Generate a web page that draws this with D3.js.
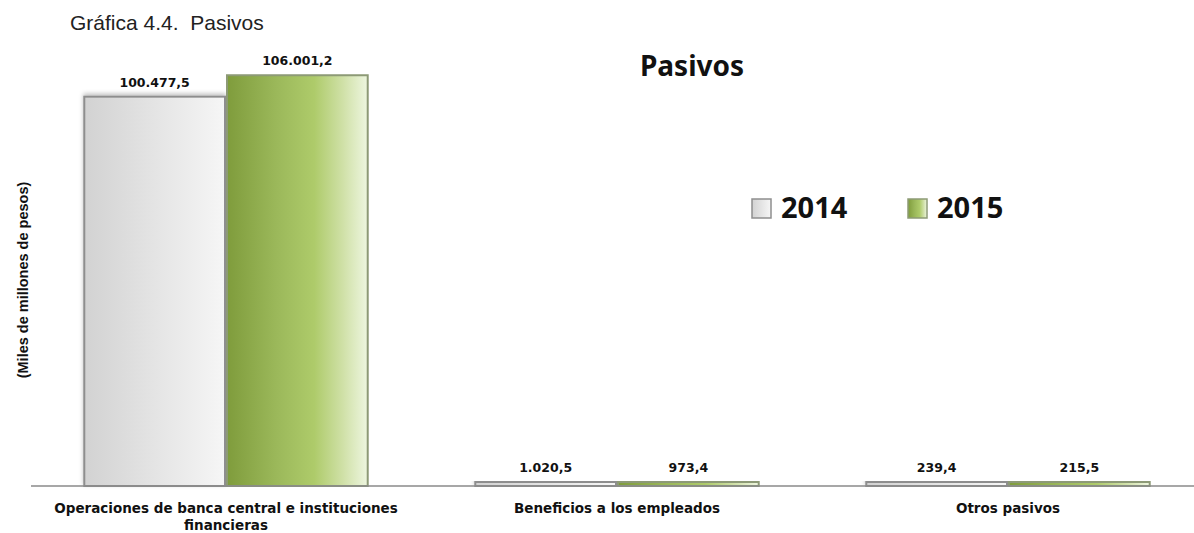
<!DOCTYPE html>
<html>
<head>
<meta charset="utf-8">
<script src="https://cdn.jsdelivr.net/npm/d3@7"></script>
<style>
  body { margin: 0; background: #fff; }
  svg { display: block; }
</style>
</head>
<body>
<div id="chart"></div>
<script>
// datos de la grafica
var categories = ["Operaciones de banca central e instituciones financieras", "Beneficios a los empleados", "Otros pasivos"];
var catLines = [["Operaciones de banca central e instituciones", "financieras"], ["Beneficios a los empleados"], ["Otros pasivos"]];
var years = ["2014", "2015"];
var values2014 = [100477.5, 1020.5, 239.4];
var values2015 = [106001.2, 973.4, 215.5];
var valueLabels2014 = ["100.477,5", "1.020,5", "239,4"];
var valueLabels2015 = ["106.001,2", "973,4", "215,5"];

var width = 1194, height = 533;

var svg = d3.select("#chart").append("svg")
	.attr("width", width)
	.attr("height", height);

var defs = svg.append("defs");

var gGray = defs.append("linearGradient").attr("id", "gradGray")
	.attr("x1", "0%").attr("x2", "100%").attr("y1", "0%").attr("y2", "0%");
gGray.append("stop").attr("offset", "0%").attr("stop-color", "#d2d2d2");
gGray.append("stop").attr("offset", "100%").attr("stop-color", "#f6f6f6");

var gGreen = defs.append("linearGradient").attr("id", "gradGreen")
	.attr("x1", "0%").attr("x2", "100%").attr("y1", "0%").attr("y2", "0%");
gGreen.append("stop").attr("offset", "0%").attr("stop-color", "#7f9c3c");
gGreen.append("stop").attr("offset", "35%").attr("stop-color", "#9bb85a");
gGreen.append("stop").attr("offset", "62%").attr("stop-color", "#aecb6a");
gGreen.append("stop").attr("offset", "82%").attr("stop-color", "#cfe0a6");
gGreen.append("stop").attr("offset", "100%").attr("stop-color", "#eef6e0");

var shadow = defs.append("filter").attr("id", "shadow")
	.attr("x", "-10%").attr("y", "-20%").attr("width", "120%").attr("height", "140%");
shadow.append("feDropShadow").attr("dx", 0).attr("dy", -2).attr("stdDeviation", 2)
	.attr("flood-color", "#000").attr("flood-opacity", 0.25);

var x = d3.scaleBand()
	.domain(categories)
	.range([30.5, 1203.5])
	.paddingInner(0.27)
	.paddingOuter(0.135);

var xs = d3.scaleBand()
	.domain(years)
	.range([0, x.bandwidth()]);

var y = d3.scaleLinear()
	.domain([0, 120000])
	.range([486, 21]);

var series = [
	{ year: "2014", values: values2014, labels: valueLabels2014, fill: "url(#gradGray)", stroke: "#8e8e8e" },
	{ year: "2015", values: values2015, labels: valueLabels2015, fill: "url(#gradGreen)", stroke: "#8d9a76" }
];

// titulo de la pagina
svg.append("text")
	.attr("x", 70).attr("y", 30)
	.style("font-family", "'Liberation Sans', Arial, sans-serif")
	.style("font-size", "21px")
	.style("white-space", "pre")
	.attr("fill", "#222")
	.text("Gráfica 4.4.  Pasivos");

// titulo del grafico
svg.append("text")
	.attr("x", 692).attr("y", 76)
	.attr("text-anchor", "middle")
	.style("font-family", "'Noto Sans', sans-serif")
	.style("font-weight", "bold")
	.style("font-size", "28px")
	.attr("fill", "#111")
	.text("Pasivos");

// eje y (solo etiqueta)
svg.append("text")
	.attr("transform", "translate(28,280) rotate(-90)")
	.attr("text-anchor", "middle")
	.style("font-family", "'Liberation Sans', Arial, sans-serif")
	.style("font-weight", "bold")
	.style("font-size", "14.5px")
	.attr("fill", "#111")
	.text("(Miles de millones de pesos)");

// barras
series.forEach(function (s) {
	var g = svg.append("g").attr("class", "serie-" + s.year);
	g.selectAll("rect")
		.data(categories)
		.enter().append("rect")
		.attr("x", function (d) { return x(d) + xs(s.year) + 1; })
		.attr("y", function (d, i) { return Math.min(y(s.values[i]), y(0) - 4); })
		.attr("width", xs.bandwidth() - 2)
		.attr("height", function (d, i) { return Math.max(y(0) - y(s.values[i]), 4); })
		.attr("fill", s.fill)
		.attr("stroke", s.stroke)
		.attr("stroke-width", 2)
		.attr("filter", s.year == "2014" ? "url(#shadow)" : null);

	g.selectAll("text")
		.data(categories)
		.enter().append("text")
		.attr("x", function (d) { return x(d) + xs(s.year) + xs.bandwidth() / 2; })
		.attr("y", function (d, i) { return Math.min(y(s.values[i]), y(0) - 4) - 10; })
		.attr("text-anchor", "middle")
		.style("font-family", "'DejaVu Sans', Verdana, sans-serif")
		.style("font-weight", "bold")
		.style("font-size", "12.5px")
		.attr("fill", "#111")
		.text(function (d, i) { return s.labels[i]; });
});

// linea base
svg.append("line")
	.attr("x1", 31).attr("x2", width)
	.attr("y1", y(0)).attr("y2", y(0))
	.attr("stroke", "#8a8a8a")
	.attr("stroke-width", 1.3);

// etiquetas de categoria
var cl = svg.append("g").selectAll("text")
	.data(categories)
	.enter().append("text")
	.attr("text-anchor", "middle")
	.style("font-family", "'DejaVu Sans', Verdana, sans-serif")
	.style("font-weight", "bold")
	.style("font-size", "13.5px")
	.attr("fill", "#111");
cl.each(function (d, i) {
	var t = d3.select(this);
	catLines[i].forEach(function (line, j) {
		t.append("tspan")
			.attr("x", x(d) + x.bandwidth() / 2)
			.attr("y", 513 + j * 17)
			.text(line);
	});
});

// leyenda
var legend = svg.append("g").attr("class", "legend");
var legX = [752, 908];
series.forEach(function (s, i) {
	legend.append("rect")
		.attr("x", legX[i]).attr("y", 199)
		.attr("width", 19).attr("height", 19)
		.attr("fill", s.fill)
		.attr("stroke", s.stroke)
		.attr("stroke-width", 1.5);
	legend.append("text")
		.attr("x", legX[i] + 29).attr("y", 218)
		.style("font-family", "'Noto Sans', sans-serif")
		.style("font-weight", "bold")
		.style("font-size", "29px")
		.attr("fill", "#111")
		.text(s.year);
});
</script>
</body>
</html>
